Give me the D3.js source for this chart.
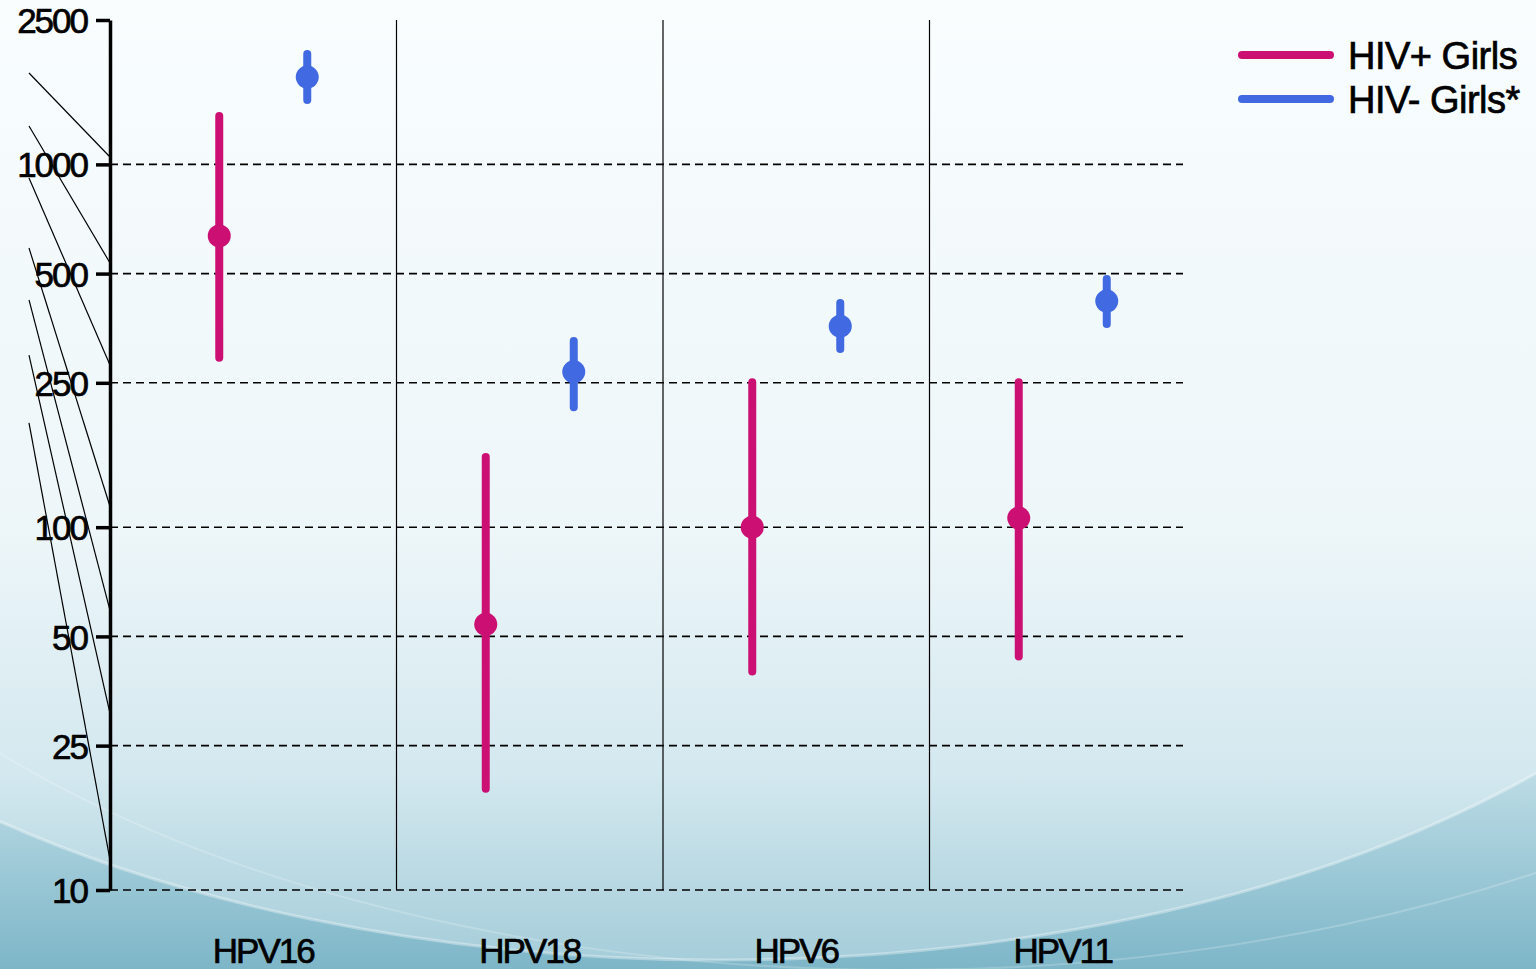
<!DOCTYPE html>
<html>
<head>
<meta charset="utf-8">
<script src="https://cdn.jsdelivr.net/npm/d3@7/dist/d3.min.js"></script>
<style>
  html, body { margin: 0; padding: 0; overflow: hidden; }
  svg { display: block; font-family: "Liberation Sans", Arial, sans-serif; }
</style>
</head>
<body>
<svg id="chart" width="1536" height="969"></svg>
<script>
// Data (antibody titres, log scale)
var categories = ['HPV16', 'HPV18', 'HPV6', 'HPV11'];
var series = ['HIV+ Girls', 'HIV- Girls*'];
var hivPosMid = [635, 54, 100, 106];
var hivPosLow = [293, 19, 40, 44];
var hivPosHigh = [1360, 156, 251, 251];
var hivNegMid = [1740, 268, 358, 420];
var hivNegLow = [1505, 214, 310, 363];
var hivNegHigh = [2015, 326, 415, 483];
var yTicks = [2500, 1000, 500, 250, 100, 50, 25, 10];
var gridTicks = [1000, 500, 250, 100, 50, 25, 10];
// stray slanted strokes at the left of the axis (start value, end value)
var strayFrom = [1786, 1276, 917, 588, 423, 298, 194];
var strayTo = [1048, 535, 280, 114, 59, 30.7, 12.1];

var colors = d3.scaleOrdinal().domain(series).range(['#CC1073', '#4169E1']);

var W = 1536, H = 969;
var svg = d3.select('#chart');

/** Background */
var defs = svg.append('defs');
var bgGrad = defs.append('linearGradient').attr('id', 'bg').attr('x1', 0).attr('y1', 0).attr('x2', 0).attr('y2', 1);
bgGrad.append('stop').attr('offset', '0%').attr('stop-color', '#f9fdfe');
bgGrad.append('stop').attr('offset', '55%').attr('stop-color', '#eaf5f8');
bgGrad.append('stop').attr('offset', '78%').attr('stop-color', '#c2dfe8');
bgGrad.append('stop').attr('offset', '100%').attr('stop-color', '#7db6c8');
var inGrad = defs.append('linearGradient').attr('id', 'inner').attr('gradientUnits', 'userSpaceOnUse')
    .attr('x1', 0).attr('y1', 0).attr('x2', 0).attr('y2', H);
inGrad.append('stop').attr('offset', '0%').attr('stop-color', '#f9fdfe');
inGrad.append('stop').attr('offset', '55%').attr('stop-color', '#edf6f9');
inGrad.append('stop').attr('offset', '80%').attr('stop-color', '#d3e8ef');
inGrad.append('stop').attr('offset', '100%').attr('stop-color', '#a3ccd9');

svg.append('rect').attr('width', W).attr('height', H).attr('fill', 'url(#bg)');
svg.append('ellipse').attr('cx', 720).attr('cy', 380).attr('rx', 1110).attr('ry', 580)
    .attr('fill', 'url(#inner)')
    .attr('stroke', '#ffffff').attr('stroke-opacity', 0.35).attr('stroke-width', 3);
svg.append('ellipse').attr('cx', 900).attr('cy', 330).attr('rx', 1200).attr('ry', 640)
    .attr('fill', 'none')
    .attr('stroke', '#ffffff').attr('stroke-opacity', 0.2).attr('stroke-width', 2);

/** Scales */
var y = d3.scaleLog().domain([10, 2500]).range([890, 20]);
var x = d3.scaleBand().domain(categories).range([130, 1196]).padding(0);
var bw = x.bandwidth();
var xs = d3.scalePoint().domain(series).range([bw / 2 - 44, bw / 2 + 44]);

var g = svg.append('g');

// Stray slanted strokes
g.selectAll('line.stray').data(strayFrom).enter().append('line')
    .attr('class', 'stray')
    .attr('x1', 29).attr('y1', function (d) {return y(d);})
    .attr('x2', 110).attr('y2', function (d, i) {return y(strayTo[i]);})
    .attr('stroke', '#000').attr('stroke-width', 1.2);

// Dashed grid lines
g.selectAll('line.grid').data(gridTicks).enter().append('line')
    .attr('class', 'grid')
    .attr('x1', 110).attr('x2', 1183)
    .attr('y1', function (d) {return y(d);}).attr('y2', function (d) {return y(d);})
    .attr('stroke', '#000').attr('stroke-width', 1.6).attr('stroke-dasharray', '8,5');

// Group separators
g.selectAll('line.sep').data(categories.slice(1)).enter().append('line')
    .attr('class', 'sep')
    .attr('x1', function (d) {return x(d);}).attr('x2', function (d) {return x(d);})
    .attr('y1', y(2500)).attr('y2', y(10))
    .attr('stroke', '#000').attr('stroke-width', 1.2);

// Y axis
var yAxis = g.append('g')
    .attr('transform', 'translate(110,0)')
    .call(d3.axisLeft(y).tickValues(yTicks).tickFormat(d3.format('d')).tickSize(14).tickSizeOuter(0).tickPadding(9));
yAxis.select('.domain').attr('stroke', '#000').attr('stroke-width', 3.5);
yAxis.selectAll('.tick line').attr('stroke', '#000').attr('stroke-width', 3.5);
yAxis.selectAll('.tick text')
    .attr('fill', '#000')
    .attr('stroke', '#000').attr('stroke-width', 0.7)
    .attr('dy', '0.36em')
    .style('font-size', '35px')
    .style('letter-spacing', '-2px')
    .style('font-family', '"Liberation Sans", Arial, sans-serif');

// X labels
g.selectAll('text.cat').data(categories).enter().append('text')
    .attr('class', 'cat')
    .attr('x', function (d) {return x(d) + bw / 2;})
    .attr('y', 963)
    .attr('text-anchor', 'middle')
    .attr('stroke', '#000').attr('stroke-width', 0.7)
    .style('font-size', '35px')
    .style('letter-spacing', '-2px')
    .text(function (d) {return d;});

// Error bars and points
var rows = [];
categories.forEach(function (c, i) {
    rows.push({cat: c, s: series[0], mid: hivPosMid[i], lo: hivPosLow[i], hi: hivPosHigh[i]});
    rows.push({cat: c, s: series[1], mid: hivNegMid[i], lo: hivNegLow[i], hi: hivNegHigh[i]});
});
var px = function (d) {return x(d.cat) + xs(d.s);};

g.selectAll('line.ci').data(rows).enter().append('line')
    .attr('class', 'ci')
    .attr('x1', px).attr('x2', px)
    .attr('y1', function (d) {return y(d.hi);})
    .attr('y2', function (d) {return y(d.lo);})
    .attr('stroke', function (d) {return colors(d.s);})
    .attr('stroke-width', 8)
    .attr('stroke-linecap', 'round');

g.selectAll('circle.pt').data(rows).enter().append('circle')
    .attr('class', 'pt')
    .attr('cx', px)
    .attr('cy', function (d) {return y(d.mid);})
    .attr('r', 11.5)
    .attr('fill', function (d) {return colors(d.s);});

// Legend
var legend = g.selectAll('g.leg').data(series).enter().append('g')
    .attr('class', 'leg')
    .attr('transform', function (d, i) {return 'translate(1242,' + (55 + i * 44) + ')';});
legend.append('line')
    .attr('x1', 0).attr('x2', 88)
    .attr('stroke', function (d) {return colors(d);})
    .attr('stroke-width', 8).attr('stroke-linecap', 'round');
legend.append('text')
    .attr('x', 106).attr('y', 0).attr('dy', '0.36em')
    .attr('stroke', '#000').attr('stroke-width', 0.7)
    .style('font-size', '38px')
    .style('letter-spacing', '-0.5px')
    .attr('fill', '#000')
    .text(function (d) {return d;});
</script>
</body>
</html>
